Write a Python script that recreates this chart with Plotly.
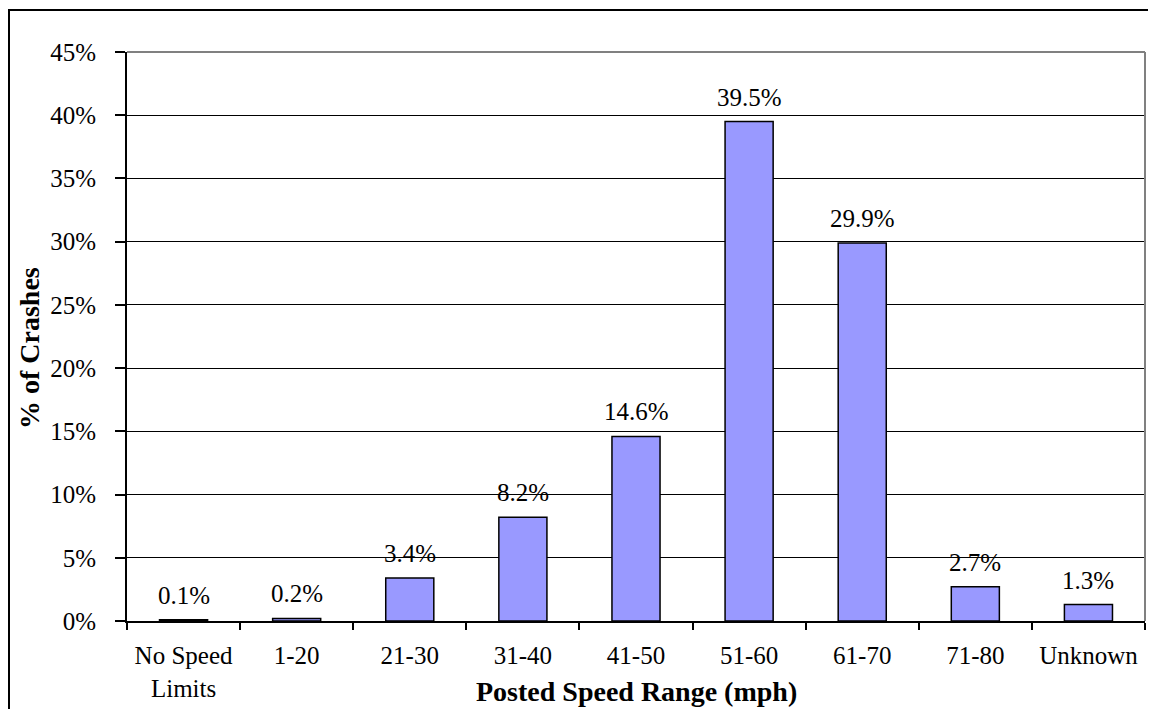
import plotly.graph_objects as go

categories = ["No Speed<br>Limits", "1-20", "21-30", "31-40", "41-50", "51-60", "61-70", "71-80", "Unknown"]
pct_crashes = [0.1, 0.2, 3.4, 8.2, 14.6, 39.5, 29.9, 2.7, 1.3]
y_ticks = [0, 5, 10, 15, 20, 25, 30, 35, 40, 45]
y_tick_labels = ["0%", "5%", "10%", "15%", "20%", "25%", "30%", "35%", "40%", "45%"]

FONT = "Liberation Serif, Times New Roman, serif"
FS = 25
FT = 28

# page body has an 8px margin: figure is offset by (8, 8) on screen
W, H = 1148, 701
L, R, T, B = 119, 11, 44, 88
PW, PH = W - L - R, H - T - B

fig = go.Figure(go.Bar(
    x=categories, y=pct_crashes,
    marker=dict(color="#9999FF", line=dict(color="black", width=1.5)),
))

annotations = []
for c, v in zip(categories, pct_crashes):
    annotations.append(dict(
        x=c, y=v, xref="x", yref="y", text=f"{v:.1f}%", showarrow=False,
        yanchor="bottom", yshift=9, font=dict(family=FONT, size=FS, color="black"),
    ))
annotations.append(dict(
    x=0.5, y=(T + PH - (691 - 8)) / PH, xref="paper", yref="paper",
    text="<b>Posted Speed Range (mph)</b>", showarrow=False,
    xanchor="center", yanchor="middle", font=dict(family=FONT, size=FT, color="black"),
))
annotations.append(dict(
    x=(29 - 8 - L) / PW, y=1 - (348 - 8 - T) / PH, xref="paper", yref="paper",
    text="<b>% of Crashes</b>", showarrow=False, textangle=-90,
    xanchor="center", yanchor="middle", font=dict(family=FONT, size=FT, color="black"),
))

fig.update_layout(
    width=W, height=H,
    margin=dict(l=L, r=R, t=T, b=B, autoexpand=False),
    paper_bgcolor="white", plot_bgcolor="white",
    bargap=0.575,
    showlegend=False,
    font=dict(family=FONT, size=FS, color="black"),
    xaxis=dict(
        tickson="boundaries", ticks="outside", ticklen=7, tickwidth=2, tickcolor="black",
        showline=True, linecolor="black", linewidth=2, automargin=False,
        tickfont=dict(family=FONT, size=FS), showgrid=False, ticklabelstandoff=11,
    ),
    yaxis=dict(
        range=[0, 45], tickvals=y_ticks, ticktext=y_tick_labels,
        ticks="outside", ticklen=10, tickwidth=2, tickcolor="black",
        showline=True, linecolor="black", linewidth=2, automargin=False,
        showgrid=True, gridcolor="black", gridwidth=1,
        tickfont=dict(family=FONT, size=FS), zeroline=False, ticklabelstandoff=14,
    ),
    annotations=annotations,
    shapes=[
        dict(type="line", xref="paper", yref="paper", x0=1, x1=1, y0=0, y1=1,
             line=dict(color="gray", width=2)),
        dict(type="line", xref="paper", yref="paper", x0=0, x1=1, y0=1, y1=1,
             line=dict(color="gray", width=2)),
        dict(type="rect", xref="paper", yref="paper",
             x0=(1 - L) / PW, x1=1.05, y0=-0.3, y1=1 + (T - 2) / PH,
             line=dict(color="black", width=2), fillcolor="rgba(0,0,0,0)", layer="above"),
    ],
)

fig.write_html("out.html")
